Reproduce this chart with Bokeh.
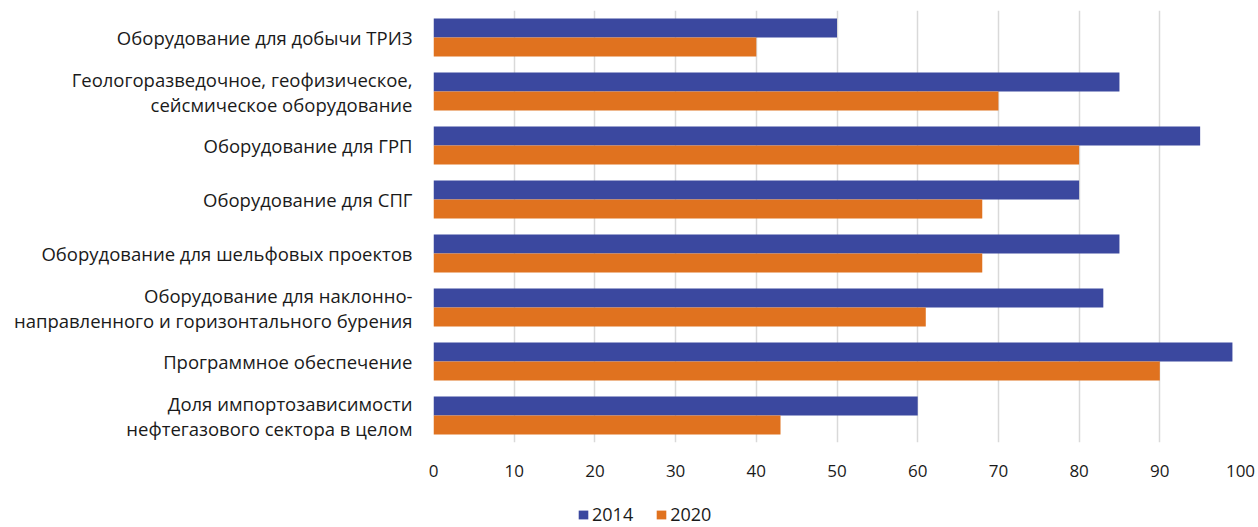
from bokeh.plotting import figure
from bokeh.layouts import column
from bokeh.models import ColumnDataSource, FactorRange, Legend, LegendItem, FixedTicker
from bokeh.transform import dodge
from bokeh.embed import file_html
from bokeh.resources import INLINE

categories = [
    "Оборудование для добычи ТРИЗ",
    "Геологоразведочное, геофизическое,\nсейсмическое оборудование",
    "Оборудование для ГРП",
    "Оборудование для СПГ",
    "Оборудование для шельфовых проектов",
    "Оборудование для наклонно-\nнаправленного и горизонтального бурения",
    "Программное обеспечение",
    "Доля импортозависимости\nнефтегазового сектора в целом",
]
values_2014 = [50, 85, 95, 80, 85, 83, 99, 60]
values_2020 = [40, 70, 80, 68, 68, 61, 90, 43]
x_ticks = [0, 10, 20, 30, 40, 50, 60, 70, 80, 90, 100]
series_names = ["2014", "2020"]

FONT = "Open Sans"
C2014 = "#3B489F"
C2020 = "#E0721F"
TEXT = "#1a1a1a"

src = ColumnDataSource(dict(cat=categories, v2014=values_2014, v2020=values_2020))

p = figure(
    width=1258, height=497,
    y_range=FactorRange(factors=list(reversed(categories))),
    x_range=(0, 100),
    output_backend="svg", toolbar_location=None,
    min_border_left=433, min_border_right=18, min_border_top=10, min_border_bottom=55,
)

p.hbar(y=dodge("cat", 0.175, range=p.y_range), right="v2014", left=0, height=0.35,
       source=src, color=C2014, line_color=None)
p.hbar(y=dodge("cat", -0.175, range=p.y_range), right="v2020", left=0, height=0.35,
       source=src, color=C2020, line_color=None)

p.outline_line_color = None
p.ygrid.grid_line_color = None
p.xgrid.grid_line_color = "#d9d9d9"
p.xgrid.grid_line_width = 1.5
p.xaxis.ticker = FixedTicker(ticks=x_ticks)

for ax in (p.xaxis[0], p.yaxis[0]):
    ax.axis_line_color = None
    ax.major_tick_line_color = None
    ax.minor_tick_line_color = None
    ax.major_label_text_font = FONT
    ax.major_label_text_color = TEXT

p.xaxis.major_label_text_font_size = "17px"
p.yaxis.major_label_text_font_size = "18.5px"
p.xaxis.major_label_standoff = 16
p.yaxis.major_label_standoff = 15
p.yaxis.major_label_text_line_height = 1.0
p.yaxis.major_label_text_align = "right"

# legend strip below the chart (its frame is aligned with the main frame by column)
lg = figure(width=1258, height=30, output_backend="svg", toolbar_location=None,
            min_border_left=0, min_border_right=0, min_border_top=0, min_border_bottom=0,
            x_axis_location=None, y_axis_location=None)
lg.outline_line_color = None
lg.grid.grid_line_color = None
proxy = ColumnDataSource(dict(y=[0], left=[0], right=[0], h=[0]))
k1 = lg.hbar(y="y", left="left", right="right", height="h", source=proxy,
             color=C2014, line_color=None)
k2 = lg.hbar(y="y", left="left", right="right", height="h", source=proxy,
             color=C2020, line_color=None)
legend = Legend(
    items=[LegendItem(label=series_names[0], renderers=[k1]),
           LegendItem(label=series_names[1], renderers=[k2])],
    orientation="horizontal", location=(144, 1),
    label_text_font=FONT, label_text_font_size="18px", label_text_color=TEXT,
    glyph_width=12, glyph_height=11, label_standoff=3, spacing=22,
    padding=0, margin=0, border_line_color=None, background_fill_alpha=0,
)
lg.add_layout(legend, "center")

layout = column(p, lg, spacing=0)
open("out.html", "w").write(file_html(layout, INLINE))
